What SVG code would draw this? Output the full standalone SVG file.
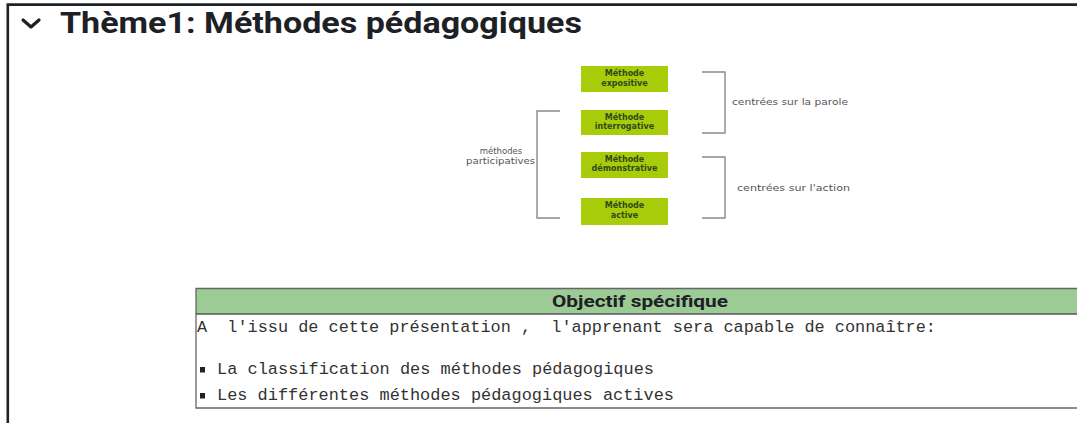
<svg xmlns="http://www.w3.org/2000/svg" width="1077" height="423" viewBox="0 0 1077 423">
<style>
.title{font-family:Roboto,"Liberation Sans",sans-serif;font-weight:700;font-size:29px;fill:#1d2125}
.box{fill:#a8cb0a}
.btxt{font-family:"DejaVu Sans",Verdana,sans-serif;font-weight:700;font-size:8px;fill:#2f4a1a;text-anchor:middle}
.lbl{font-family:"DejaVu Sans",Verdana,sans-serif;font-size:8.5px;fill:#555}
.br{fill:none;stroke:#8a8a8a;stroke-width:1.4}
.mono{font-family:"Liberation Mono","Courier New",monospace;font-size:16.9px;fill:#333}
.hdr{font-family:Roboto,"Liberation Sans",sans-serif;font-weight:700;font-size:17px;fill:#1d2125;text-anchor:middle}
</style>
<rect width="1077" height="423" fill="#ffffff"/>
<g id="frame">
<path d="M7.8 423 V4.6 H1077" fill="none" stroke="#1f2328" stroke-width="2.6"/>
</g>
<g id="header">
<path d="M23 20 L31 27 L39 20" fill="none" stroke="#1d2125" stroke-width="3.2" stroke-linecap="round" stroke-linejoin="round"/>
<text class="title" x="60" y="33" textLength="522" lengthAdjust="spacingAndGlyphs">Thème1: Méthodes pédagogiques</text>
</g>
<g id="n-expositive">
<rect class="box" x="581" y="66" width="87" height="26"/>
<text class="btxt" x="624.5" y="76">Méthode</text>
<text class="btxt" x="624.5" y="85.5">expositive</text>
</g>
<g id="n-interrogative">
<rect class="box" x="581" y="110" width="87" height="25"/>
<text class="btxt" x="624.5" y="119.5">Méthode</text>
<text class="btxt" x="624.5" y="129">interrogative</text>
</g>
<g id="n-demonstrative">
<rect class="box" x="581" y="152" width="87" height="26"/>
<text class="btxt" x="624.5" y="161.5">Méthode</text>
<text class="btxt" x="624.5" y="171">démonstrative</text>
</g>
<g id="n-active">
<rect class="box" x="581" y="198" width="87" height="27"/>
<text class="btxt" x="624.5" y="208">Méthode</text>
<text class="btxt" x="624.5" y="218">active</text>
</g>
<g id="connectors">
<path class="br" d="M702 72 H725 V133 H702"/>
<path class="br" d="M702 157 H725 V218 H702"/>
<path class="br" d="M560 111 H537 V218 H560"/>
</g>
<g id="labels">
<text class="lbl" x="732" y="105" textLength="116" lengthAdjust="spacingAndGlyphs">centrées sur la parole</text>
<text class="lbl" x="737" y="191" textLength="113" lengthAdjust="spacingAndGlyphs">centrées sur l'action</text>
<text class="lbl" x="501" y="154" text-anchor="middle">méthodes</text>
<text class="lbl" x="466" y="164" textLength="69" lengthAdjust="spacingAndGlyphs">participatives</text>
</g>
<g id="table">
<rect x="196" y="288.5" width="890" height="25.5" fill="#9ccb96"/>
<path d="M1077 288.5 H196 V408 H1077" fill="none" stroke="#666666" stroke-width="1.3"/>
<path d="M196 314 H1077" stroke="#555" stroke-width="1.6"/>
<text class="hdr" x="640" y="307" textLength="176" lengthAdjust="spacingAndGlyphs">Objectif spécifique</text>
<text class="mono" x="197" y="332" textLength="739" lengthAdjust="spacingAndGlyphs" xml:space="preserve">A  l'issu de cette présentation ,  l'apprenant sera capable de connaître:</text>
<rect x="200" y="367" width="5" height="5.5" fill="#222"/>
<text class="mono" x="217" y="374" textLength="437" lengthAdjust="spacingAndGlyphs">La classification des méthodes pédagogiques</text>
<rect x="200" y="393" width="5" height="5.5" fill="#222"/>
<text class="mono" x="217" y="400" textLength="457" lengthAdjust="spacingAndGlyphs">Les différentes méthodes pédagogiques actives</text>
</g>
</svg>
